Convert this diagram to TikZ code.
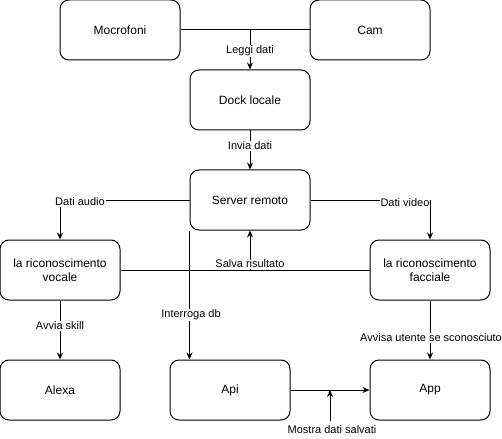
\documentclass[tikz,border=0pt]{standalone}
\usepackage{fontspec}
\setmainfont{Liberation Sans}
\usetikzlibrary{arrows.meta}
\begin{document}
\begin{tikzpicture}[x=1pt,y=-1pt,
  box/.style={draw,line width=1pt,rounded corners=9pt,minimum width=120pt,minimum height=60pt,inner sep=0pt,align=center,font=\fontsize{12pt}{14pt}\selectfont},
  lbl/.style={fill=white,inner sep=1pt,font=\fontsize{11pt}{13pt}\selectfont},
  conn/.style={line width=1pt},
  arr/.style={line width=1pt,-{Stealth[length=7pt,width=6pt]}}]
\useasboundingbox (0,0) rectangle (502,438);
\node[box] (mic) at (120,30) {Mocrofoni};
\node[box] (cam) at (370,30) {Cam};
\node[box] (dock) at (250,100) {Dock locale};
\node[box] (srv) at (250,200) {Server remoto};
\node[box] (rv) at (60,270) {la riconoscimento\\vocale};
\node[box] (rf) at (430,270) {la riconoscimento\\facciale};
\node[box] (alexa) at (60,390) {Alexa};
\node[box] (api) at (230,390) {Api};
\node[box] (app) at (430,390) {App};
\coordinate (j1) at (250,30);
\coordinate (j2) at (250,270);
\coordinate (ca) at (60,200);
\coordinate (cv) at (430,200);
\coordinate (mb) at (330,421);
\coordinate (mt) at (330,390);
% top
\draw[conn] (mic.east) -- (cam.west);
\draw[arr] (j1) -- (dock.north);
\node[lbl] (l1) at (250,51) {Leggi dati};
\draw[arr] (dock.south) -- (srv.north);
\node[lbl] (l2) at (250,146) {Invia dati};
% audio / video
\draw[arr] (srv.west) -- (ca) -- (rv.north);
\node[lbl] (l3) at (80,202) {Dati audio};
\draw[arr] (srv.east) -- (cv) -- (rf.north);
\node[lbl] (l4) at (405,203) {Dati video};
% salva risultato
\draw[conn] (rv.east) -- (j2);
\draw[conn] (rf.west) -- (j2);
\draw[arr] (j2) -- (srv.south);
\node[lbl] (l5) at (250,264) {Salva risultato};
% interroga db
\draw[arr] (srv.south west) -- (api.north west -| srv.south west);
\node[lbl] (l6) at (191,315) {Interroga db};
% bottom
\draw[arr] (rv.south) -- (alexa.north);
\node[lbl] (l7) at (60,326) {Avvia skill};
\draw[arr] (rf.south) -- (app.north);
\node[lbl] (l8) at (431,338) {Avvisa utente se sconosciuto};
\draw[arr] (api.east) -- (app.west);
\draw[arr] (mb) -- (mt);
\node[lbl,fill=none] (l9) at (332,430) {Mostra dati salvati};
\end{tikzpicture}
\end{document}
